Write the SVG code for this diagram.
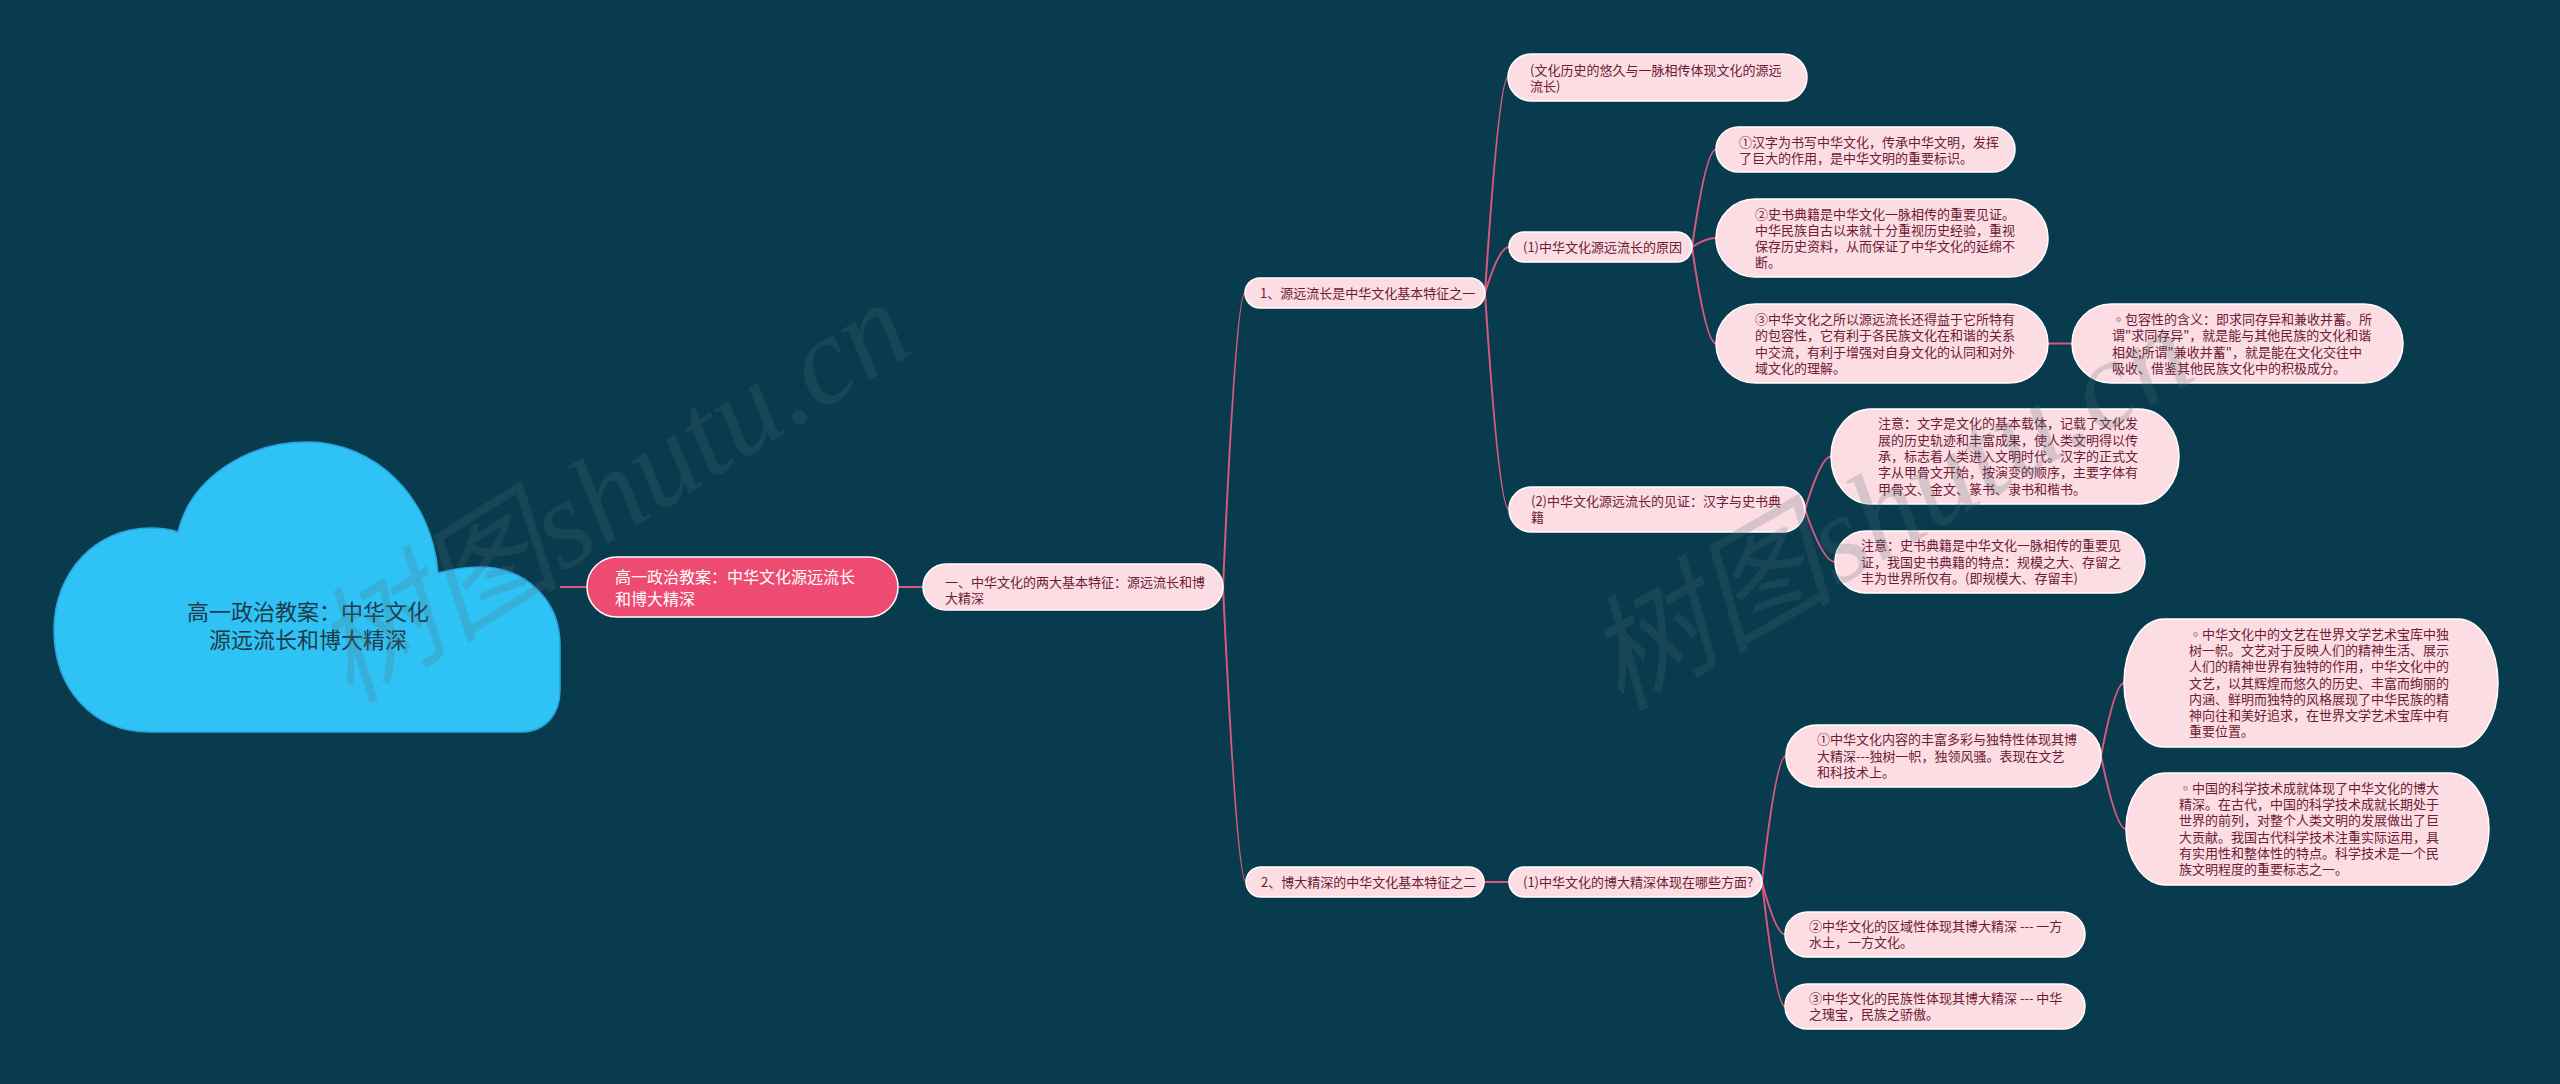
<svg xmlns="http://www.w3.org/2000/svg" width="2560" height="1084" viewBox="0 0 2560 1084">
<style>
.conn path{fill:none;stroke:#d9587e;stroke-width:2}
.nd rect{fill:#fcdde3;stroke:#ffffff;stroke-width:1.5}
.nd text{font-family:"Noto Sans CJK SC","Noto Sans",sans-serif;font-size:13px;fill:#6d1b36}
.wm{font-family:"Liberation Serif","Noto Sans CJK SC",serif;font-style:italic;font-size:125px;fill:#56707a;opacity:0.22}
</style>
<rect x="0" y="0" width="2560" height="1084" fill="#083b4e"/>
<g id="connectors" class="conn">
<path d="M560 587 L587 587"/>
<path d="M898 587 L923 587"/>
<path d="M1223 587 Q1236 293 1245 293"/>
<path d="M1223 587 Q1237 882 1246 882"/>
<path d="M1485 293 Q1499 77.5 1508 77.5"/>
<path d="M1485 293 Q1499 247 1509 247"/>
<path d="M1485 293 Q1499 509.5 1509 509.5"/>
<path d="M1692 247 Q1706 149.5 1716 149.5"/>
<path d="M1692 247 Q1706 238 1716 238"/>
<path d="M1692 247 Q1706 343.5 1716 343.5"/>
<path d="M2048 343.5 L2072 343.5"/>
<path d="M1805 509.5 Q1821 456.5 1831 456.5"/>
<path d="M1805 509.5 Q1823 562 1835 562"/>
<path d="M1484 882 L1509 882"/>
<path d="M1762 882 Q1776 756 1786 756"/>
<path d="M1762 882 Q1776 934.5 1785 934.5"/>
<path d="M1762 882 Q1776 1006.5 1785 1006.5"/>
<path d="M2101 756 Q2115 683 2124 683"/>
<path d="M2101 756 Q2116 829 2126 829"/>
</g>
<g id="cloud">
<path d="M150 732 C92 732 54 688 54 630 C54 572 96 528 150 528 C160 528 170 529 178 532 C190 480 245 442 307 442 C375 442 432 497 438 573 C452 569 466 567 480 567 C525 567 560 600 560 645 L560 690 C560 715 545 732 520 732 Z" fill="#2fc3f5" stroke="#27a6dc" stroke-width="1.5"/>
<text x="308" y="620" text-anchor="middle" font-family="Noto Sans CJK SC,sans-serif" font-size="22" fill="#1f3a4a">高一政治教案：中华文化</text>
<text x="308" y="648" text-anchor="middle" font-family="Noto Sans CJK SC,sans-serif" font-size="22" fill="#1f3a4a">源远流长和博大精深</text>
</g>
<g id="root">
<rect x="587" y="557" width="311" height="60" rx="30" fill="#ee4b73" stroke="#ffffff" stroke-width="1.5"/>
<text x="615" y="583" font-family="Noto Sans CJK SC,sans-serif" font-size="16" fill="#ffffff">高一政治教案：中华文化源远流长</text>
<text x="615" y="605" font-family="Noto Sans CJK SC,sans-serif" font-size="16" fill="#ffffff">和博大精深</text>
</g>
<g id="n-yi" class="nd">
<rect x="923" y="564" width="300" height="46" rx="23"/>
<text x="945" y="586.5">一、中华文化的两大基本特征：源远流长和博</text>
<text x="945" y="602.5">大精深</text>
</g>
<g id="n-1" class="nd">
<rect x="1245" y="278" width="240" height="30" rx="15"/>
<text x="1260" y="297.5">1、源远流长是中华文化基本特征之一</text>
</g>
<g id="n-2" class="nd">
<rect x="1246" y="867" width="238" height="30" rx="15"/>
<text x="1261" y="886.5">2、博大精深的中华文化基本特征之二</text>
</g>
<g id="n-history" class="nd">
<rect x="1508" y="54" width="299" height="47" rx="23.5"/>
<text x="1530" y="74.5">(文化历史的悠久与一脉相传体现文化的源远</text>
<text x="1530" y="90.5">流长)</text>
</g>
<g id="n-1-1" class="nd">
<rect x="1509" y="232" width="183" height="30" rx="15"/>
<text x="1523" y="251.5">(1)中华文化源远流长的原因</text>
</g>
<g id="n-1-1-a" class="nd">
<rect x="1716" y="127" width="299" height="45" rx="22.5"/>
<text x="1739" y="146.5">①汉字为书写中华文化，传承中华文明，发挥</text>
<text x="1739" y="162.5">了巨大的作用，是中华文明的重要标识。</text>
</g>
<g id="n-1-1-b" class="nd">
<rect x="1716" y="199" width="332" height="78" rx="39"/>
<text x="1755" y="218.5">②史书典籍是中华文化一脉相传的重要见证。</text>
<text x="1755" y="234.8">中华民族自古以来就十分重视历史经验，重视</text>
<text x="1755" y="251.1">保存历史资料，从而保证了中华文化的延绵不</text>
<text x="1755" y="267.4">断。</text>
</g>
<g id="n-1-1-c" class="nd">
<rect x="1716" y="304" width="332" height="79" rx="39.5"/>
<text x="1755" y="324">③中华文化之所以源远流长还得益于它所特有</text>
<text x="1755" y="340.3">的包容性，它有利于各民族文化在和谐的关系</text>
<text x="1755" y="356.6">中交流，有利于增强对自身文化的认同和对外</text>
<text x="1755" y="372.9">域文化的理解。</text>
</g>
<g id="n-inclusive" class="nd">
<rect x="2072" y="304" width="331" height="79" rx="39.5"/>
<text x="2112" y="324">◦包容性的含义：即求同存异和兼收并蓄。所</text>
<text x="2112" y="340.3">谓&quot;求同存异&quot;，就是能与其他民族的文化和谐</text>
<text x="2112" y="356.6">相处;所谓&quot;兼收并蓄&quot;，就是能在文化交往中</text>
<text x="2112" y="372.9">吸收、借鉴其他民族文化中的积极成分。</text>
</g>
<g id="n-1-2" class="nd">
<rect x="1509" y="487" width="296" height="45" rx="22.5"/>
<text x="1531" y="506">(2)中华文化源远流长的见证：汉字与史书典</text>
<text x="1531" y="522">籍</text>
</g>
<g id="n-1-2-a" class="nd">
<rect x="1831" y="409" width="348" height="95" rx="40" ry="47.5"/>
<text x="1878" y="428.4">注意：文字是文化的基本载体，记载了文化发</text>
<text x="1878" y="444.7">展的历史轨迹和丰富成果，使人类文明得以传</text>
<text x="1878" y="461">承，标志着人类进入文明时代。汉字的正式文</text>
<text x="1878" y="477.3">字从甲骨文开始，按演变的顺序，主要字体有</text>
<text x="1878" y="493.6">甲骨文、金文、篆书、隶书和楷书。</text>
</g>
<g id="n-1-2-b" class="nd">
<rect x="1835" y="531" width="310" height="62" rx="31"/>
<text x="1861" y="550.2">注意：史书典籍是中华文化一脉相传的重要见</text>
<text x="1861" y="566.5">证，我国史书典籍的特点：规模之大、存留之</text>
<text x="1861" y="582.8">丰为世界所仅有。(即规模大、存留丰)</text>
</g>
<g id="n-2-1" class="nd">
<rect x="1509" y="867" width="253" height="30" rx="15"/>
<text x="1523" y="886.5">(1)中华文化的博大精深体现在哪些方面?</text>
</g>
<g id="n-2-1-a" class="nd">
<rect x="1786" y="725" width="315" height="62" rx="31"/>
<text x="1817" y="744.2">①中华文化内容的丰富多彩与独特性体现其博</text>
<text x="1817" y="760.5">大精深---独树一帜，独领风骚。表现在文艺</text>
<text x="1817" y="776.8">和科技术上。</text>
</g>
<g id="n-arts" class="nd">
<rect x="2124" y="619" width="374" height="128" rx="40" ry="64"/>
<text x="2189" y="638.6">◦中华文化中的文艺在世界文学艺术宝库中独</text>
<text x="2189" y="654.9">树一帜。文艺对于反映人们的精神生活、展示</text>
<text x="2189" y="671.2">人们的精神世界有独特的作用，中华文化中的</text>
<text x="2189" y="687.5">文艺，以其辉煌而悠久的历史、丰富而绚丽的</text>
<text x="2189" y="703.8">内涵、鲜明而独特的风格展现了中华民族的精</text>
<text x="2189" y="720.1">神向往和美好追求，在世界文学艺术宝库中有</text>
<text x="2189" y="736.4">重要位置。</text>
</g>
<g id="n-science" class="nd">
<rect x="2126" y="773" width="363" height="112" rx="40" ry="56"/>
<text x="2179" y="792.8">◦中国的科学技术成就体现了中华文化的博大</text>
<text x="2179" y="809.1">精深。在古代，中国的科学技术成就长期处于</text>
<text x="2179" y="825.4">世界的前列，对整个人类文明的发展做出了巨</text>
<text x="2179" y="841.7">大贡献。我国古代科学技术注重实际运用，具</text>
<text x="2179" y="858">有实用性和整体性的特点。科学技术是一个民</text>
<text x="2179" y="874.3">族文明程度的重要标志之一。</text>
</g>
<g id="n-2-1-b" class="nd">
<rect x="1785" y="912" width="300" height="45" rx="22.5"/>
<text x="1809" y="931">②中华文化的区域性体现其博大精深 --- 一方</text>
<text x="1809" y="947">水土，一方文化。</text>
</g>
<g id="n-2-1-c" class="nd">
<rect x="1785" y="984" width="300" height="45" rx="22.5"/>
<text x="1809" y="1003">③中华文化的民族性体现其博大精深 --- 中华</text>
<text x="1809" y="1019">之瑰宝，民族之骄傲。</text>
</g>
<g id="watermark">
<text class="wm" x="350" y="705" transform="rotate(-32 350 705)">树图shutu.cn</text>
<text class="wm" x="1620" y="712" transform="rotate(-30 1620 712)">树图shutu.cn</text>
</g>
</svg>
